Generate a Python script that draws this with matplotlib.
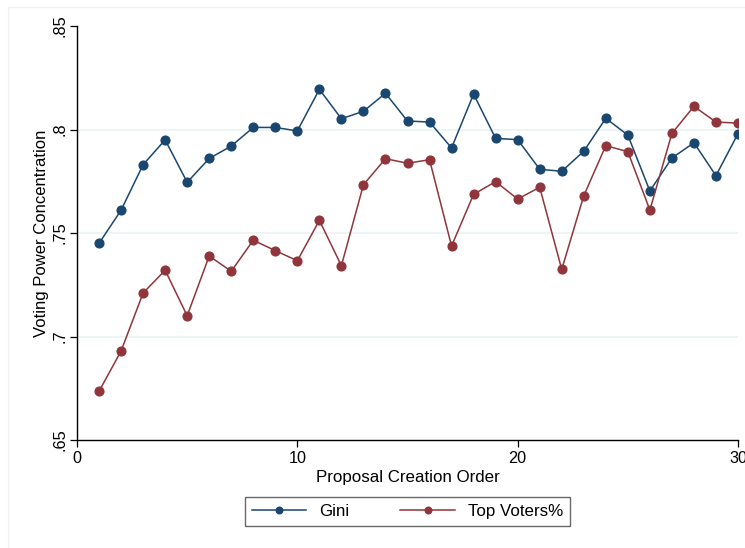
import matplotlib.pyplot as plt
from matplotlib.lines import Line2D

# proposal creation order
order = list(range(1, 31))
gini = [0.745, 0.761, 0.783, 0.795, 0.7745, 0.786, 0.792, 0.801, 0.801, 0.7993,
        0.8194, 0.8052, 0.8088, 0.8175, 0.8041, 0.8036, 0.7911, 0.8171, 0.7957, 0.7951,
        0.7808, 0.7798, 0.7895, 0.8054, 0.7973, 0.7703, 0.7862, 0.7936, 0.7777, 0.798]
top_voters = [0.6735, 0.693, 0.721, 0.732, 0.710, 0.7389, 0.7315, 0.7465, 0.7415, 0.7366,
              0.7561, 0.7342, 0.7733, 0.7859, 0.7837, 0.7854, 0.7437, 0.7687, 0.7748, 0.7664,
              0.7721, 0.7324, 0.768, 0.7922, 0.7893, 0.7611, 0.7981, 0.8112, 0.8036, 0.8031]
y_ticks = [0.65, 0.7, 0.75, 0.8, 0.85]
y_tick_labels = ['.65', '.7', '.75', '.8', '.85']
x_ticks = [0, 10, 20, 30]

navy = '#1a476f'
maroon = '#90353b'

plt.rcParams['font.family'] = ['Liberation Sans', 'DejaVu Sans']

fig = plt.figure(figsize=(7.45, 5.48), dpi=100)
ax = fig.add_axes([77 / 745, 1 - 440 / 548, 661 / 745, 414 / 548])

# faint outer frame, like the Stata graph region
fig.add_artist(Line2D([8 / 745, 8 / 745], [0, 1 - 7 / 548], transform=fig.transFigure,
                      color='#eef2f2', lw=1))
fig.add_artist(Line2D([8 / 745, 1], [1 - 7 / 548, 1 - 7 / 548], transform=fig.transFigure,
                      color='#eef2f2', lw=1))

for v in [0.7, 0.75, 0.8]:
    ax.axhline(v, color='#eaf2f3', lw=1.2, zorder=0)

ax.plot(order, gini, color=navy, lw=1.1, marker='o', ms=6.3, label='Gini')
ax.plot(order, top_voters, color=maroon, lw=1.1, marker='o', ms=6.3, label='Top Voters%')

ax.set_xlim(0, 30)
ax.set_ylim(0.65, 0.85)
ax.set_xticks(x_ticks)
ax.set_yticks(y_ticks)
ax.set_yticklabels(y_tick_labels, rotation=90, va='center')
ax.tick_params(labelsize=11.7, length=5, width=0.9, color='black')
ax.tick_params(axis='y', pad=1.5)
ax.tick_params(axis='x', pad=3)

for side in ['top', 'right']:
    ax.spines[side].set_visible(False)
for side in ['left', 'bottom']:
    ax.spines[side].set_linewidth(1.0)

ax.set_xlabel('Proposal Creation Order', fontsize=12.2, labelpad=3)
ax.set_ylabel('Voting Power Concentration', fontsize=12, labelpad=3)

leg = ax.legend(loc='upper center', bbox_to_anchor=(0.5, -0.118), ncol=2,
                frameon=True, fancybox=False, fontsize=12.2, handlelength=3.2,
                columnspacing=3.0, borderpad=0.4, edgecolor='#444444', markerscale=0.75)
leg.get_frame().set_linewidth(1.0)

fig.savefig('out.png', dpi=100)
